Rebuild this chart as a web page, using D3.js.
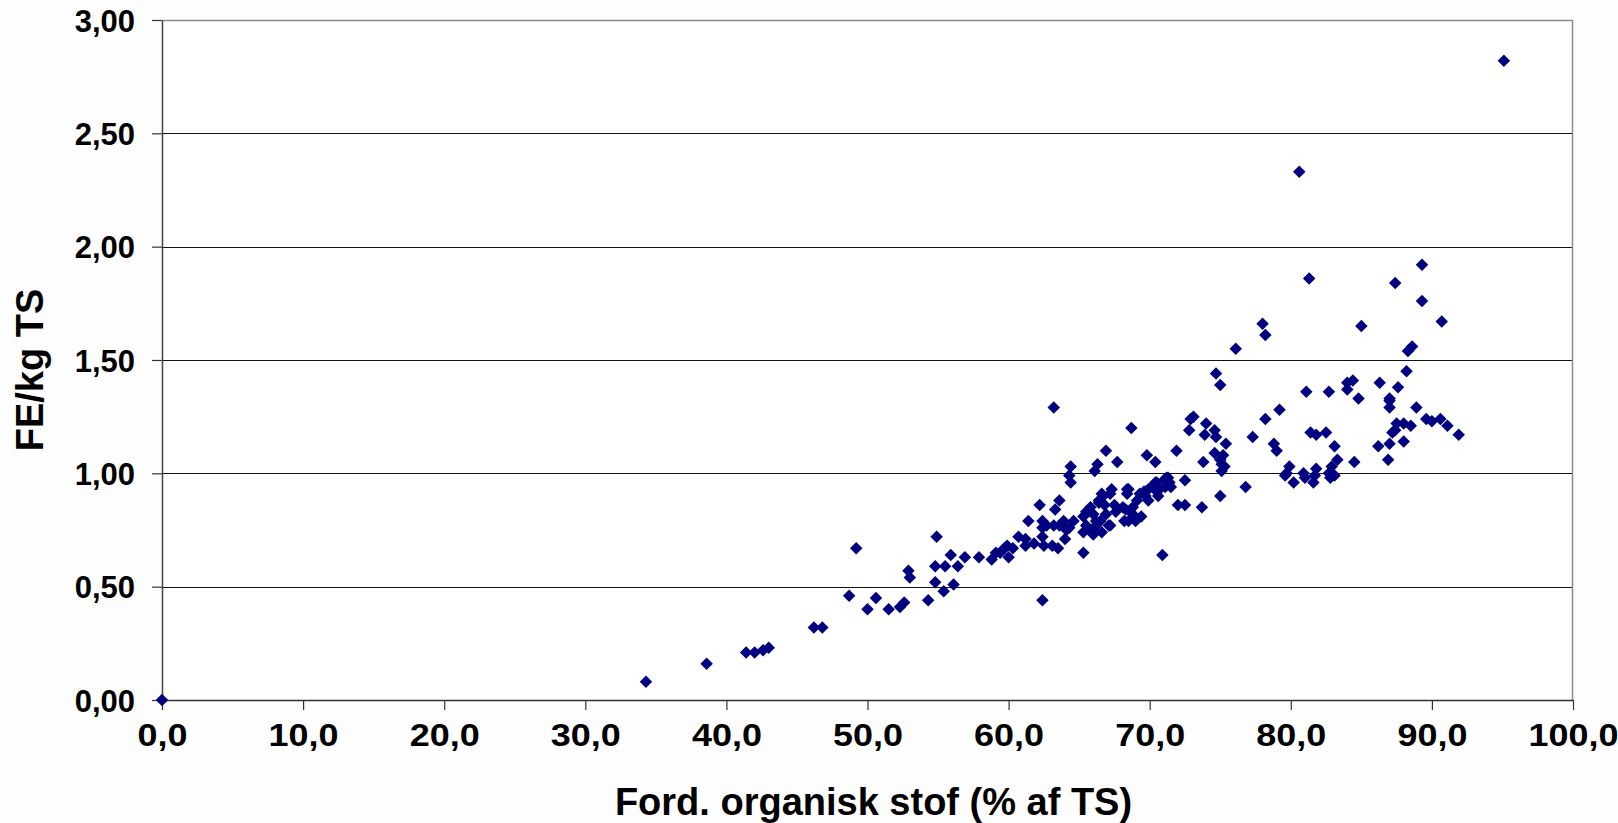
<!DOCTYPE html>
<meta charset="utf-8">
<style>
body { margin: 0; background: #fdfdfd; }
.tick text { font: bold 31px "Liberation Sans", Arial, sans-serif; fill: #000; }
.title { font: bold 38px "Liberation Sans", Arial, sans-serif; fill: #000; }
</style>
<svg width="1618" height="823"></svg>
<script src="https://cdn.jsdelivr.net/npm/d3@7"></script>
<script>

// Ford. organisk stof (% af TS)
var organicPct = [
 0, 34.3, 38.6, 41.4, 42.0, 42.6, 43.0, 46.2, 46.8,
 48.7, 49.2, 50.0, 50.6, 51.5, 52.3, 52.6, 52.9, 53.0,
 54.3, 54.9, 54.8, 55.5, 54.8, 55.4, 55.9, 56.1, 56.4, 56.9,
 57.9, 58.8, 59.1, 59.4, 59.7, 59.9, 60.0, 60.3, 60.7, 61.2, 61.4, 61.2, 61.8,
 62.2, 62.4, 62.4, 62.7, 62.4, 62.5, 63.1, 63.5, 62.4, 63.2,
 63.3, 63.6, 63.2, 63.6, 63.9, 64.0, 64.1, 64.3, 64.6,
 64.4, 64.3, 64.4, 65.3,
 65.3, 65.5, 65.8, 66.0, 66.2, 65.5, 65.9, 66.0, 65.3,
 66.1, 66.3, 66.9, 66.6, 66.4, 66.8, 67.2, 66.6, 67.3, 67.5, 67.6, 67.7,
 68.4, 68.4, 68.3, 68.2, 68.7, 68.8, 69.0, 69.4, 69.3, 69.7, 69.9, 69.8,
 70.4, 70.3, 70.5, 70.7, 70.6, 71.0, 71.2, 71.4, 71.5, 70.9,
 71.9, 72.0, 72.5, 72.5, 72.8, 72.9, 73.1,
 74.0, 73.9, 74.6, 74.7, 75.4, 73.8, 73.7, 74.7, 75.0, 76.1,
 74.6, 75.2, 75.1, 75.1, 75.3, 75.0, 75.0, 76.8, 77.3,
 78.0, 78.2, 78.2, 79.2, 78.8, 79.0,
 79.7, 79.9, 79.6, 80.2, 80.9, 81.0, 81.6, 81.7, 81.8, 82.7, 82.8, 83.1, 82.9, 83.3,
 80.6, 81.3, 81.1, 81.4, 81.8, 82.5, 82.7, 83.1, 84.5,
 84.4, 84.0, 84.0, 84.8, 85.0,
 86.3, 87.6, 87.0, 87.0, 87.0, 88.9, 88.2, 88.6, 88.3, 87.4, 89.3, 89.3, 90.7,
 89.6, 90.0, 90.6, 91.1, 91.9,
 87.5, 88.0, 88.5, 87.4, 87.2, 87.0, 88.0, 86.2, 86.9,
 95.1,
 69.9, 69.6, 69.1, 68.5, 67.2, 66.7, 66.4, 68.1, 68.8, 68.5, 66.9, 66.5, 66.2, 67.1, 70.4, 71.3, 71.1, 70.5
];

// FE/kg TS
var feKgTs = [
 0, 0.08, 0.16, 0.21, 0.21, 0.22, 0.23, 0.32, 0.32,
 0.46, 0.67, 0.40, 0.45, 0.40, 0.41, 0.43, 0.57, 0.54,
 0.44, 0.72, 0.59, 0.59, 0.52, 0.48, 0.64, 0.51, 0.59, 0.63,
 0.63, 0.62, 0.65, 0.65, 0.67, 0.68, 0.63, 0.67, 0.72, 0.71, 0.79, 0.68, 0.69,
 0.86, 0.79, 0.76, 0.77, 0.72, 0.68, 0.68, 0.67, 0.44, 1.29,
 0.84, 0.88, 0.77, 0.77, 0.79, 0.71, 0.75, 0.76, 0.79,
 1.03, 0.99, 0.96, 0.65,
 0.81, 0.83, 0.85, 0.82, 0.79, 0.77, 0.75, 0.73, 0.74,
 1.01, 1.04, 1.10, 0.91, 0.87, 0.86, 0.77, 0.74, 0.93, 0.86, 0.83, 1.05,
 0.93, 0.91, 0.84, 0.79, 1.20, 0.82, 0.79, 0.81, 0.91, 0.90, 0.88, 1.08,
 1.05, 0.95, 0.96, 0.93, 0.90, 0.97, 0.98, 0.96, 0.94, 0.64,
 1.10, 0.86, 0.86, 0.97, 1.19, 1.24, 1.25,
 1.22, 1.17, 1.19, 1.16, 1.13, 1.05, 0.85, 1.44, 1.39, 1.55,
 1.09, 1.08, 1.04, 1.01, 1.03, 1.06, 0.90, 0.94, 1.16,
 1.66, 1.61, 1.24, 1.28, 1.13, 1.10,
 1.00, 1.03, 0.99, 0.96, 1.00, 0.98, 0.96, 0.99, 1.02, 1.00, 0.98, 0.99, 1.03, 1.06,
 2.33, 1.86, 1.36, 1.18, 1.17, 1.18, 1.36, 1.12, 1.05,
 1.41, 1.40, 1.37, 1.33, 1.65,
 1.40, 1.38, 1.33, 1.32, 1.29, 1.29, 1.45, 1.56, 1.54, 1.84, 1.92, 1.76, 1.67,
 1.24, 1.23, 1.24, 1.21, 1.17,
 1.22, 1.22, 1.21, 1.19, 1.18, 1.13, 1.14, 1.12, 1.06,
 2.82,
 0.93, 0.92, 0.88, 0.93, 0.91, 0.90, 0.88, 0.85, 0.85, 0.79, 0.82, 0.79, 0.77, 0.77, 0.96, 0.98, 0.94, 0.92
];

var xTicks = [0, 10, 20, 30, 40, 50, 60, 70, 80, 90, 100];
var yTicks = [0, 0.5, 1, 1.5, 2, 2.5, 3];
var xTitle = "Ford. organisk stof (% af TS)";
var yTitle = "FE/kg TS";

var dk = d3.formatLocale({decimal: ",", thousands: ".", grouping: [3], currency: ["", " kr"]});

var svg = d3.select("svg"),
    margin = {top: 20, right: 45, bottom: 123, left: 162},
    width = 1618 - margin.left - margin.right,
    height = 823 - margin.top - margin.bottom,
    g = svg.append("g").attr("transform", "translate(" + margin.left + "," + margin.top + ")");

var x = d3.scaleLinear().domain([0, 100]).range([0, width]);
var y = d3.scaleLinear().domain([0, 3]).range([height, 0]);

g.append("rect")
    .attr("width", width)
    .attr("height", height)
    .attr("fill", "#fff");

// horizontal gridlines
g.selectAll(".grid")
    .data(yTicks.filter(function(d) { return d > 0 && d < 3; }))
    .enter().append("line")
    .attr("x1", 0).attr("x2", width)
    .attr("y1", function(d) { return Math.round(y(d)) + 0.5; })
    .attr("y2", function(d) { return Math.round(y(d)) + 0.5; })
    .attr("stroke", "#111")
    .attr("stroke-width", 1);

// plot-area border top and right (grey)
g.append("path")
    .attr("d", "M0,0.5H" + (width - 0.5) + "V" + height)
    .attr("fill", "none")
    .attr("stroke", "#8a8a8a")
    .attr("stroke-width", 1.5);

var xAxis = g.append("g")
    .attr("transform", "translate(0," + height + ")")
    .call(d3.axisBottom(x).tickValues(xTicks).tickSize(10).tickSizeOuter(0).tickPadding(14)
        .tickFormat(dk.format(".1f")));

var yAxis = g.append("g")
    .call(d3.axisLeft(y).tickValues(yTicks).tickSize(10).tickSizeOuter(0).tickPadding(17)
        .tickFormat(dk.format(".2f")));

xAxis.select(".domain").attr("stroke", "#333").attr("stroke-width", 1.5);
yAxis.select(".domain").attr("stroke", "#444").attr("stroke-width", 1.5);
xAxis.selectAll(".tick line").attr("stroke", "#333").attr("stroke-width", 1.2);
yAxis.selectAll(".tick line").attr("stroke", "#333").attr("stroke-width", 1.2);
// x labels are drawn a little wider in the original
xAxis.selectAll(".tick text").attr("dy", "0.71em").attr("transform", "scale(1.16,1)");
yAxis.selectAll(".tick text").attr("dy", "0.36em");
svg.selectAll(".tick text").attr("font-size", null).attr("font-family", null);

// points
var points = organicPct.map(function(v, i) { return {x: v, y: feKgTs[i]}; })
    .filter(function(d) { return d.y != null; });

var diamond = d3.symbol().type(d3.symbolSquare).size(78);

g.selectAll(".pt")
    .data(points)
    .enter().append("path")
    .attr("class", "pt")
    .attr("d", diamond)
    .attr("transform", function(d) { return "translate(" + x(d.x) + "," + y(d.y) + ") rotate(45)"; })
    .attr("fill", "#000080");

// axis titles
svg.append("text")
    .attr("class", "title")
    .attr("x", margin.left + width / 2 + 6)
    .attr("y", 815)
    .attr("text-anchor", "middle")
    .text(xTitle);

svg.append("text")
    .attr("class", "title")
    .attr("transform", "translate(43," + (margin.top + height / 2 + 10) + ") rotate(-90)")
    .attr("text-anchor", "middle")
    .text(yTitle);

</script>
